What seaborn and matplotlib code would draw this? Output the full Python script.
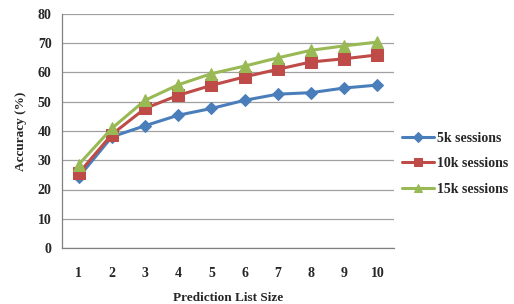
import numpy as np
import pandas as pd
import matplotlib
matplotlib.use("Agg")
import matplotlib.pyplot as plt
import seaborn as sns

# ---------------------------------------------------------------------------
# Data
# ---------------------------------------------------------------------------
list_size = [1, 2, 3, 4, 5, 6, 7, 8, 9, 10]
acc_5k = [24.2, 38.0, 41.8, 45.4, 47.7, 50.5, 52.6, 53.1, 54.7, 55.7]
acc_10k = [25.5, 38.8, 47.7, 52.2, 55.6, 58.5, 61.1, 63.6, 64.7, 66.0]
acc_15k = [28.5, 40.9, 50.5, 55.8, 59.6, 62.2, 65.0, 67.6, 69.1, 70.4]
series_names = ["5k sessions", "10k sessions", "15k sessions"]

df = pd.DataFrame({
    "size": list_size * 3,
    "accuracy": acc_5k + acc_10k + acc_15k,
    "series": [n for n in series_names for _ in list_size],
})

palette = {"5k sessions": "#4A7EBB",
           "10k sessions": "#BE4B48",
           "15k sessions": "#98B954"}
markers = {"5k sessions": "D", "10k sessions": "s", "15k sessions": "^"}
sizes = {"5k sessions": 6, "10k sessions": 8, "15k sessions": 8}

sns.set_style("white")
plt.rcParams["font.family"] = ["Liberation Serif", "DejaVu Serif"]
plt.rcParams["font.weight"] = "bold"

fig = plt.figure(figsize=(5.14, 3.04), dpi=100)
ax = fig.add_axes([62 / 514, 1 - 248 / 304, (394 - 62) / 514, (248 - 14) / 304])

for name in series_names:
    sub = df[df["series"] == name]
    sns.lineplot(data=sub, x="size", y="accuracy", color=palette[name],
                 marker=markers[name], markersize=sizes[name],
                 markeredgecolor=palette[name], linewidth=2.2,
                 label=name, ax=ax)

ax.set_xlim(0.5, 10.5)
ax.set_ylim(0, 80)
ax.set_yticks(range(0, 81, 10))
ax.yaxis.grid(True, color="#A0A0A0", linewidth=0.9)
ax.set_axisbelow(True)

ax.set_xticks(list_size)
ax.set_xticklabels([str(v) for v in list_size])
ax.set_xticks(np.arange(0.5, 11, 1), minor=True)
ax.tick_params(axis="x", which="major", length=0, pad=14, labelsize=10)
ax.tick_params(axis="x", which="minor", length=4, direction="out", color="#808080", width=0.9)
ax.tick_params(axis="y", length=4, direction="out", color="#808080", width=0.9, labelsize=10)

for s in ["top", "right"]:
    ax.spines[s].set_visible(False)
for s in ["left", "bottom"]:
    ax.spines[s].set_color("#808080")
    ax.spines[s].set_linewidth(0.9)

ax.set_xlabel("Prediction List Size", fontsize=9.5, fontweight="bold", labelpad=8)
ax.set_ylabel("Accuracy (%)", fontsize=9.5, fontweight="bold", labelpad=8)

ax.legend(loc="center left", bbox_to_anchor=(1.0, 0.36), frameon=False,
          borderaxespad=0.2, handlelength=2.3, labelspacing=0.9,
          handletextpad=0.2, markerscale=0.8,
          prop={"weight": "bold", "size": 10})

fig.savefig("out.png", dpi=100)
